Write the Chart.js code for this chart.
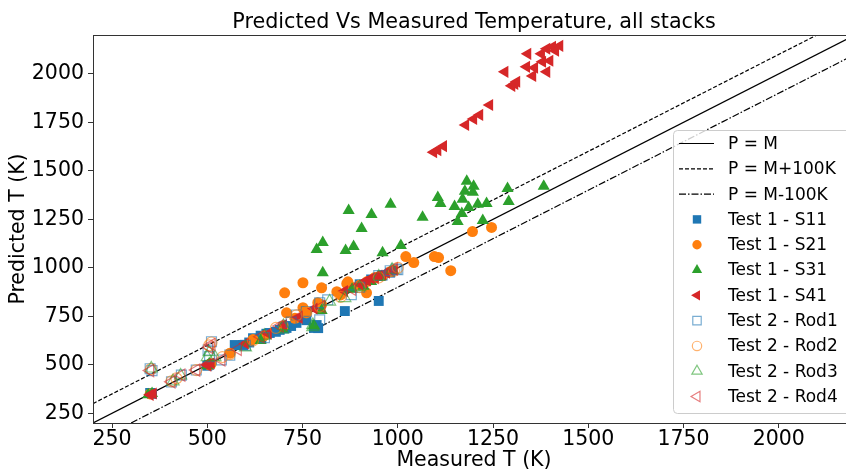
<!DOCTYPE html>
<html>
<head>
<meta charset="utf-8">
<script src="https://cdn.jsdelivr.net/npm/chart.js@4.4.0/dist/chart.umd.min.js"></script>
<style>
    html, body { margin: 0; padding: 0; background: #fff; overflow: hidden; }
    #wrap { width: 870px; height: 471px; }
</style>
</head>
<body>
<div id="wrap"><canvas id="chart" width="870" height="471"></canvas></div>
<script>
(function () {
    "use strict";

    // Axis setup
    const xTicks = [250, 500, 750, 1000, 1250, 1500, 1750, 2000];
    const yTicks = [250, 500, 750, 1000, 1250, 1500, 1750, 2000];
    const axisMin = 200;
    const axisMax = 2200;

    // Reference lines (measured, predicted)
    const lineEqual = [[200, 200], [2200, 2200]];
    const linePlus = [[200, 300], [2100, 2200]];
    const lineMinus = [[300, 200], [2200, 2100]];

    // Test 1 stacks (measured, predicted)
    const s11 = [[350, 355], [355, 350], [500, 495], [505, 500], [572, 602], [594, 602], [610, 615], [620, 637],
        [640, 650], [642, 640], [655, 660], [664, 664], [680, 670], [690, 680], [700, 697], [708, 690],
        [720, 700], [734, 716], [760, 730], [780, 690], [787, 705], [791, 689], [861, 777], [900, 915],
        [930, 940], [950, 829], [960, 960], [980, 975]];
    const s21 = [[350, 350], [505, 500], [510, 505], [560, 560], [620, 630], [650, 650], [700, 700], [730, 740],
        [760, 770], [800, 810], [850, 860], [880, 900], [900, 910], [920, 930], [940, 950], [960, 960],
        [980, 980], [703, 871], [751, 923], [800, 897], [708, 768], [751, 794], [790, 820], [840, 877],
        [866, 918], [869, 928], [918, 871], [1021, 1058], [1042, 1027], [1096, 1058], [1107, 1053],
        [1139, 985], [1196, 1187], [1246, 1208]];
    const s31 = [[345, 345], [355, 352], [500, 495], [505, 505], [640, 625], [700, 680], [780, 700], [800, 780],
        [880, 890], [910, 905], [930, 930], [950, 950], [787, 1094], [803, 1130], [871, 1296], [863, 1089],
        [884, 1110], [931, 1275], [905, 1203], [960, 1078], [1008, 1115], [981, 1327], [1065, 1260],
        [1105, 1363], [1112, 1332], [1149, 1316], [1157, 1239], [1168, 1280], [1170, 1353], [1176, 1394],
        [1181, 1446], [1197, 1389], [1199, 1420], [1186, 1311], [1210, 1327], [1233, 1332], [1223, 1244],
        [1288, 1409], [1291, 1342], [1383, 1420], [803, 975]];
    const s41 = [[350, 345], [358, 352], [500, 500], [510, 508], [600, 610], [660, 660], [700, 705], [740, 745],
        [780, 790], [860, 880], [900, 915], [910, 925], [920, 935], [930, 945], [940, 950], [950, 960],
        [960, 965], [970, 975], [980, 985], [990, 990], [1094, 1596], [1105, 1606], [1120, 1627],
        [1178, 1736], [1199, 1767], [1215, 1788], [1241, 1839], [1281, 2010], [1299, 1938], [1307, 1948],
        [1312, 1959], [1341, 2103], [1338, 2036], [1359, 2031], [1354, 1989], [1391, 2010], [1380, 2062],
        [1399, 2067], [1377, 2103], [1391, 2129], [1406, 2139], [1425, 2144], [1414, 2119]];

    // Test 2 rods (measured, predicted)
    const rod1 = [[350, 480], [355, 470], [406, 412], [432, 447], [471, 473], [502, 576], [511, 619], [506, 542],
        [537, 525], [559, 550], [600, 600], [650, 640], [700, 690], [720, 720], [734, 757], [760, 775],
        [795, 732], [795, 820], [816, 835], [878, 861], [900, 900], [950, 960], [980, 985], [996, 994],
        [1000, 990]];
    const rod2 = [[352, 478], [406, 415], [419, 430], [471, 473], [505, 600], [511, 615], [540, 540], [559, 555],
        [620, 625], [680, 690], [734, 755], [760, 770], [795, 800], [850, 850], [900, 900], [950, 950],
        [990, 985], [1000, 1000]];
    const rod3 = [[353, 481], [410, 415], [430, 445], [500, 540], [505, 565], [520, 540], [600, 590], [650, 650],
        [700, 700], [777, 706], [777, 694], [821, 826], [861, 844], [900, 900], [950, 955], [985, 990]];
    const rod4 = [[350, 470], [406, 412], [432, 447], [471, 473], [500, 500], [505, 590], [511, 605], [537, 525],
        [580, 580], [640, 645], [690, 700], [740, 745], [800, 800], [880, 890], [940, 950], [990, 995]];

    const toPoints = (pairs) => pairs.map(([x, y]) => ({ x: x, y: y }));

    const lineSet = (label, pairs, dash) => ({
        label: label,
        data: toPoints(pairs),
        showLine: true,
        pointRadius: 0,
        borderColor: "#000",
        borderWidth: 1.2,
        borderDash: dash,
        fill: false,
    });

    const markerSet = (label, pairs, style, rotation, radius, color, hollow) => ({
        label: label,
        data: toPoints(pairs),
        pointStyle: style,
        rotation: rotation,
        pointRadius: radius,
        pointBackgroundColor: hollow ? "rgba(0,0,0,0)" : color,
        pointBorderColor: color,
        pointBorderWidth: hollow ? 1.2 : 0,
    });

    const datasets = [
        lineSet("P = M", lineEqual, []),
        lineSet("P = M+100K", linePlus, [4, 2]),
        lineSet("P = M-100K", lineMinus, [7, 2, 1.5, 2]),
        markerSet("Test 1 - S11", s11, "rect", 0, 7, "#1f77b4", false),
        markerSet("Test 1 - S21", s21, "circle", 0, 5.5, "#ff7f0e", false),
        markerSet("Test 1 - S31", s31, "triangle", 0, 7, "#2ca02c", false),
        markerSet("Test 1 - S41", s41, "triangle", -90, 7, "#d62728", false),
        markerSet("Test 2 - Rod1", rod1, "rect", 0, 7, "rgba(31,119,180,0.6)", true),
        markerSet("Test 2 - Rod2", rod2, "circle", 0, 5.5, "rgba(255,127,14,0.6)", true),
        markerSet("Test 2 - Rod3", rod3, "triangle", 0, 7, "rgba(44,160,44,0.6)", true),
        markerSet("Test 2 - Rod4", rod4, "triangle", -90, 7, "rgba(214,39,40,0.6)", true),
    ];
    // later datasets on top, like the original
    datasets.forEach((d, i) => { d.order = datasets.length - i; });

    const fontFamily = "'DejaVu Sans', sans-serif";

    // Title, frame and legend drawn by hand
    const decorations = {
        id: "decorations",
        afterDraw(chart) {
            const ctx = chart.ctx;
            const area = chart.chartArea;
            ctx.save();
            ctx.strokeStyle = "#333";
            ctx.lineWidth = 1;
            ctx.strokeRect(area.left + 0.5, area.top + 0.5, area.right - area.left, area.bottom - area.top);

            ctx.fillStyle = "#000";
            ctx.font = "20.7px " + fontFamily;
            ctx.textAlign = "center";
            ctx.textBaseline = "alphabetic";
            ctx.fillText("Predicted Vs Measured Temperature, all stacks", (area.left + area.right) / 2, 28);

            // legend box
            const boxX = 673, boxY = 130, boxW = 220, boxH = 283;
            ctx.beginPath();
            ctx.roundRect(boxX + 0.5, boxY + 0.5, boxW, boxH, 4);
            ctx.fillStyle = "rgba(255,255,255,0.8)";
            ctx.fill();
            ctx.strokeStyle = "#cccccc";
            ctx.stroke();

            ctx.font = "17px " + fontFamily;
            ctx.textAlign = "left";
            ctx.textBaseline = "middle";
            chart.data.datasets.forEach((d, i) => {
                const y = 143.5 + i * 25.3;
                if (d.showLine) {
                    ctx.save();
                    ctx.strokeStyle = d.borderColor;
                    ctx.lineWidth = d.borderWidth;
                    ctx.setLineDash(d.borderDash);
                    ctx.beginPath();
                    ctx.moveTo(679, y);
                    ctx.lineTo(714, y);
                    ctx.stroke();
                    ctx.restore();
                } else {
                    ctx.save();
                    ctx.fillStyle = d.pointBackgroundColor;
                    ctx.strokeStyle = d.pointBorderColor;
                    ctx.lineWidth = d.pointBorderWidth;
                    Chart.helpers.drawPoint(ctx, {
                        pointStyle: d.pointStyle,
                        rotation: d.rotation,
                        radius: d.pointRadius * 0.85,
                        borderWidth: d.pointBorderWidth,
                    }, 697, y);
                    ctx.restore();
                }
                ctx.fillStyle = "#000";
                ctx.fillText(d.label, 728, y + 1);
            });
            ctx.restore();
        },
    };

    const axisOptions = (ticks, title, fit, tickPad) => ({
        type: "linear",
        min: axisMin,
        max: axisMax,
        afterBuildTicks: (scale) => {
            scale.ticks = ticks.map((v) => ({ value: v }));
        },
        afterFit: fit,
        ticks: {
            autoSkip: false,
            maxRotation: 0,
            padding: tickPad,
            color: "#000",
            font: { family: fontFamily, size: 20.5 },
            callback: (value) => String(value),
        },
        grid: {
            drawOnChartArea: false,
            drawTicks: true,
            tickLength: 5,
            color: "#333",
        },
        border: { display: true, color: "#333", width: 1 },
        title: {
            display: true,
            text: title,
            color: "#000",
            font: { family: fontFamily, size: 20.5 },
        },
    });

    const xAxis = axisOptions(xTicks, "Measured T (K)", (scale) => { scale.height = 48; }, -1);
    xAxis.title.padding = { top: 0, bottom: -2 };
    const yAxis = axisOptions(yTicks, "Predicted T (K)", (scale) => { scale.width = 93; }, 4);
    yAxis.title.padding = { top: 6, bottom: 0 };

    new Chart(document.getElementById("chart"), {
        type: "scatter",
        data: { datasets: datasets },
        options: {
            responsive: false,
            animation: false,
            layout: { padding: { top: 35, right: 15, left: 0, bottom: 0 } },
            plugins: {
                legend: { display: false },
                tooltip: { enabled: false },
            },
            scales: { x: xAxis, y: yAxis },
        },
        plugins: [decorations],
    });
})();
</script>
</body>
</html>
